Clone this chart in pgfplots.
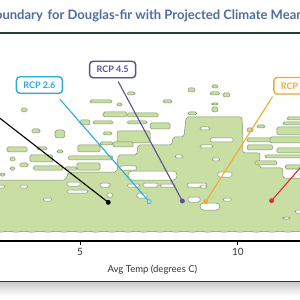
\documentclass[border=0pt]{standalone}
\usepackage{fontspec}
\setmainfont{Lato}
\usepackage{pgfplots}
\pgfplotsset{compat=1.18}
\usetikzlibrary{shadows}
\definecolor{gfill}{RGB}{200,222,163}
\definecolor{gline}{RGB}{128,146,108}
\definecolor{ttl}{RGB}{80,108,160}
\definecolor{rulegreen}{RGB}{40,64,50}
\definecolor{c26}{RGB}{41,170,225}
\definecolor{c45}{RGB}{90,80,150}
\definecolor{c60}{RGB}{246,168,52}
\definecolor{c85}{RGB}{222,45,45}
\pgfplotsset{
  blob/.style={fill=gfill, draw=gline, line width=0.5pt, rounded corners=1.5pt},
  holeS/.style={fill=white, draw=gline, line width=0.5pt, rounded corners=1.5pt},
}
\tikzset{box/.style={rounded corners=3.5pt, line width=1.4pt, fill=white, minimum width=46pt, minimum height=16.5pt, inner sep=0pt, font=\bfseries\fontsize{9}{10}\selectfont, drop shadow={opacity=0.18, shadow xshift=0.4pt, shadow yshift=-1.2pt}}}
\newcommand{\gcell}[4]{\addplot[blob] coordinates {(#1,#3) (#2,#3) (#2,#4) (#1,#4)} -- cycle;}
\newcommand{\ghole}[4]{\addplot[holeS] coordinates {(#1,#3) (#2,#3) (#2,#4) (#1,#4)} -- cycle;}
\begin{document}
\begin{tikzpicture}
\useasboundingbox (0,0) rectangle (300pt,300pt);
\clip (0,0) rectangle (300pt,300pt);
\fill[white] (0,0) rectangle (300pt,300pt);
\node[anchor=base east, text=ttl, font=\bfseries\fontsize{13}{15}\selectfont, inner sep=0pt] at (43pt,280pt) {Climate Boundary};
\node[anchor=base west, text=ttl, font=\bfseries\fontsize{13}{15}\selectfont, inner sep=0pt] at (47.5pt,280pt) {for Douglas-fir with Projected Climate Means};
\draw[rulegreen, line width=1.6pt] (0,266.7pt) -- (300pt,266.7pt);
\shade[top color=black!20, bottom color=white] (0,4pt) rectangle (300pt,17.5pt);
\draw[rulegreen, line width=1.6pt] (0,18.3pt) -- (300pt,18.3pt);
\begin{axis}[
  at={(0pt,59pt)}, anchor=south west, scale only axis, width=300pt, height=206pt,
  xmin=2.46, xmax=11.97, ymin=59, ymax=265,
  axis x line*=bottom, axis y line=none,
  x axis line style={line width=1.3pt, black},
  xtick={5,10}, ytick=\empty,
  tick align=outside, major tick length=4pt,
  tick style={black, line width=0.8pt},
  xticklabel style={font=\fontsize{10}{12}\selectfont, text=black!80},
  /pgf/number format/assume math mode=true,
  xlabel={Avg Temp (degrees C)},
  xlabel style={font=\fontsize{9.5}{11}\selectfont, text=black!80, at={(rel axis cs:0.508,0)}, anchor=center, yshift=-29pt},
  clip=false,
]
% main envelope
\addplot[blob, rounded corners=2pt] coordinates {
(2.30,120) (4.55,120) (4.62,128) (6.17,128) (6.20,145) (6.80,145) (6.83,155) (7.91,155) (7.94,163) (8.29,163) (8.36,183) (10.13,183) (10.16,163) (10.16,147) (10.70,147) (10.70,132) (11.43,132) (11.43,122) (12.13,122)
(12.13,67.5) (12.10,67.5) (11.84,69) (11.59,67.5) (11.34,69) (11.08,67.5) (10.83,69) (10.58,67.5) (10.32,69) (10.07,67.5) (9.81,69) (9.56,67.5) (9.31,69) (9.05,67.5) (8.80,69) (8.55,67.5) (8.29,69) (8.04,67.5) (7.79,69) (7.53,67.5) (7.28,69) (7.02,67.5) (6.77,69) (6.52,67.5) (6.26,69) (6.01,67.5) (5.76,69) (5.50,67.5) (5.25,69) (5.00,67.5) (4.74,69) (4.49,67.5) (4.24,69) (3.98,67.5) (3.73,69) (3.47,67.5) (3.22,69) (2.97,67.5) (2.71,69) (2.46,67.5) (2.21,69)
} -- cycle;
% detached cells
\gcell{3.13}{3.32}{192}{188}
\gcell{5.31}{6.01}{200}{197}
\gcell{5.00}{5.31}{180}{175}
\gcell{5.41}{6.04}{179}{176}
\gcell{3.47}{3.73}{171}{167}
\addplot[blob, rounded corners=3pt] coordinates {(4.20,170) (4.52,170) (4.52,162) (4.20,162)} -- cycle;
\gcell{2.68}{3.32}{153}{148}
\gcell{3.63}{3.95}{153}{150}
\gcell{4.27}{4.46}{150}{147}
\gcell{4.93}{5.63}{155}{148}
\gcell{5.63}{6.04}{158}{155}
\gcell{2.78}{2.94}{143}{139}
\gcell{3.41}{4.14}{145}{138}
\gcell{4.62}{6.04}{144}{140}
\gcell{3.51}{4.46}{134}{130}
\gcell{2.78}{2.94}{133}{130}
\gcell{4.52}{4.90}{133}{130}
\gcell{4.90}{5.63}{137}{130}
\gcell{2.46}{2.62}{127}{124}
\gcell{3.09}{3.35}{137}{133}
\gcell{6.49}{6.74}{208}{205}
\gcell{6.17}{6.33}{197}{194}
\gcell{7.63}{7.91}{200}{197}
\gcell{8.42}{8.64}{212}{208}
\gcell{5.73}{6.49}{188}{183}
\gcell{6.49}{7.47}{187}{183}
\gcell{8.42}{8.70}{188}{185}
\gcell{6.49}{7.12}{179}{176}
\gcell{7.22}{7.85}{177}{171}
\gcell{5.73}{6.01}{168}{165}
\gcell{6.17}{7.22}{169}{157}
\gcell{6.04}{6.68}{158}{153}
\gcell{9.18}{9.37}{215}{212}
\gcell{9.12}{9.43}{208}{205}
\gcell{9.53}{9.75}{207}{203}
\gcell{9.18}{9.37}{197}{195}
\gcell{9.18}{9.37}{193}{188}
\gcell{10.29}{10.48}{172}{168}
\gcell{10.61}{10.86}{175}{172}
\gcell{11.56}{12.13}{183}{180}
\gcell{11.43}{12.13}{178}{175}
\gcell{11.24}{12.13}{173}{165}
\gcell{10.29}{11.24}{162}{158}
\gcell{11.02}{12.13}{163}{157}
\gcell{10.29}{11.11}{155}{150}
\gcell{11.24}{12.13}{152}{147}
\gcell{10.86}{12.13}{145}{142}
\gcell{10.54}{11.24}{139}{135}
\gcell{11.50}{12.13}{135}{131}
% holes
\ghole{2.30}{2.62}{115}{112}
\ghole{3.09}{3.35}{115}{112}
\ghole{3.82}{4.11}{102}{99}
\ghole{4.58}{5.00}{118}{114}
\ghole{4.58}{5.25}{110}{107}
\ghole{5.63}{5.95}{117}{113}
\ghole{5.85}{6.04}{107}{103}
\ghole{6.49}{6.90}{116}{113}
\ghole{6.99}{7.47}{117}{113}
\ghole{7.53}{8.01}{116}{113}
\ghole{8.39}{9.02}{117}{113}
\ghole{6.80}{7.12}{107}{102}
\ghole{8.42}{8.80}{103}{98}
\ghole{6.26}{6.80}{134}{130}
\addplot[holeS, rounded corners=4pt] coordinates {(6.52,129) (8.07,129) (8.07,120) (6.52,120)} -- cycle;
\ghole{9.37}{9.81}{128}{123}
\ghole{8.80}{9.02}{115}{112}
\ghole{9.53}{9.81}{102}{99}
\addplot[holeS, rounded corners=3.5pt] coordinates {(8.80,97) (9.43,97) (9.43,90) (8.80,90)} -- cycle;
\ghole{11.81}{12.13}{90}{87}
\ghole{11.43}{11.65}{83}{81}
\ghole{8.01}{8.26}{145}{142}
\ghole{9.18}{9.43}{142}{139}
\ghole{8.80}{9.12}{173}{170}
\ghole{9.12}{9.85}{162}{158}
\ghole{8.80}{9.21}{155}{152}
% scenario leader lines and points
\addplot[black, line width=1.1pt] coordinates {(0.875,220.5) (5.89,97.7)};
\addplot[c26, line width=1.1pt] coordinates {(4.36,200.7) (7.19,98.3)};
\addplot[c45, line width=1.1pt] coordinates {(6.21,218.3) (8.24,99)};
\addplot[c60, line width=1.1pt] coordinates {(11.10,203.3) (8.98,98.3)};
\addplot[c85, line width=1.1pt] coordinates {(11.07,99.3) (12.92,166.6)};
\addplot[only marks, mark=*, mark size=2.2pt, black] coordinates {(5.89,97.7)};
\addplot[only marks, mark=*, mark size=2.2pt, draw=c26, fill=c26!45] coordinates {(7.19,98.3)};
\addplot[only marks, mark=*, mark size=2.2pt, c45] coordinates {(8.24,99)};
\addplot[only marks, mark=*, mark size=2.2pt, c60] coordinates {(8.98,98.3)};
\addplot[only marks, mark=*, mark size=2.2pt, c85] coordinates {(11.07,99.3)};
\node[box, draw=c26, text=c26] at (axis cs:3.71,215) {RCP 2.6};
\node[box, draw=c45, text=c45] at (axis cs:6.03,230.5) {RCP 4.5};
\node[box, draw=c60, text=c60] at (axis cs:11.87,214.2) {RCP 6.0};
\end{axis}
\end{tikzpicture}
\end{document}
